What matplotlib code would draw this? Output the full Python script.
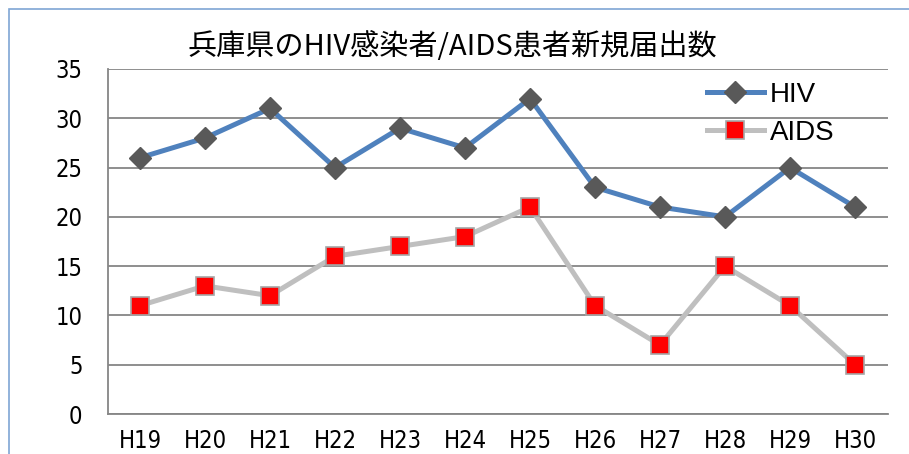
"""兵庫県のHIV感染者/AIDS患者新規届出数 line chart."""

import matplotlib
matplotlib.use("Agg")
import matplotlib.pyplot as plt
from matplotlib.patches import Rectangle

years = ["H19", "H20", "H21", "H22", "H23", "H24", "H25", "H26", "H27", "H28", "H29", "H30"]
hiv = [26, 28, 31, 25, 29, 27, 32, 23, 21, 20, 25, 21]
aids = [11, 13, 12, 16, 17, 18, 21, 11, 7, 15, 11, 5]
yticks = [0, 5, 10, 15, 20, 25, 30, 35]

plt.rcParams["font.family"] = ["Noto Sans CJK JP", "DejaVu Sans"]


def main() -> None:
    fig = plt.figure(figsize=(9.09, 4.54), dpi=100)
    ax = fig.add_axes([107.5 / 909, 1 - 414 / 454, 780 / 909, 345 / 454])

    # outer chart-area border (cropped at right and bottom)
    fig.patches.append(Rectangle((8.5 / 909, -0.1), 2.0, 1 - 9.5 / 454 + 0.1,
                                 transform=fig.transFigure, fill=False,
                                 edgecolor="#7FA6D4", linewidth=1.2))

    x = list(range(len(years)))
    ax.plot(x, hiv, color="#4F81BD", linewidth=3.6, marker="D", markersize=11.5,
            markerfacecolor="#595959", markeredgecolor="#595959", label="HIV", zorder=3)
    ax.plot(x, aids, color="#BFBFBF", linewidth=3.6, marker="s", markersize=13,
            markerfacecolor="#FF0000", markeredgecolor="#A6A6A6", markeredgewidth=1.2,
            label="AIDS", zorder=3)

    ax.set_xlim(-0.5, len(years) - 0.5)
    ax.set_ylim(0, 35)
    ax.yaxis.grid(True, color="#868686", linewidth=1.3)
    ax.set_axisbelow(True)
    for side in ["top", "right"]:
        ax.spines[side].set_visible(False)
    for side in ["left", "bottom"]:
        ax.spines[side].set_color("#868686")
        ax.spines[side].set_linewidth(1.3)
    ax.tick_params(length=0)
    ax.tick_params(axis="x", pad=11)
    ax.tick_params(axis="y", pad=18)
    tick_font = dict(fontfamily="DejaVu Sans", fontstretch="condensed", fontsize=17)
    ax.set_yticks(yticks, labels=[str(v) for v in yticks], **tick_font)
    ax.set_xticks(x, labels=years, **tick_font)

    fig.text(452 / 909, 1 - 47 / 454, "兵庫県のHIV感染者/AIDS患者新規届出数",
             ha="center", va="center", fontsize=21)

    leg = ax.legend(loc="upper left", bbox_to_anchor=(707 / 909, 1 - 82 / 454),
                    bbox_transform=fig.transFigure, frameon=False, fontsize=20,
                    handlelength=2.05, labelspacing=0.42, handletextpad=0.2,
                    borderaxespad=0, borderpad=0)
    for t in leg.get_texts():
        t.set_fontfamily(["Liberation Sans", "DejaVu Sans"])

    fig.savefig("out.png", dpi=100)
    plt.close(fig)


if __name__ == "__main__":
    main()
